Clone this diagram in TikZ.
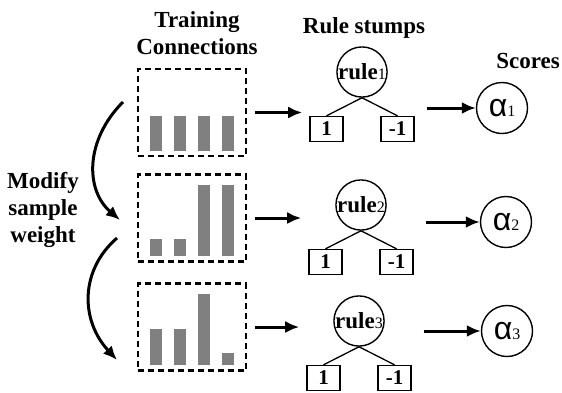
\documentclass[tikz,border=0pt]{standalone}
\usepackage{fontspec}
\setmainfont{Liberation Serif}
\newfontfamily\greekfont{Liberation Sans}
\usetikzlibrary{arrows.meta,calc}

\begin{document}
\begin{tikzpicture}[x=1pt, y=-1pt, >={Latex[length=14pt,width=12pt]},
        level distance=57pt, sibling distance=71pt,
        edge from parent/.style={draw, line width=1.3pt},
        edge from parent path={(\tikzparentnode.south) -- (\tikzchildnode.north)}]
      \tikzstyle{title} = [font=\bfseries\fontsize{23}{27}\selectfont, align=center]
      \tikzstyle{sample} = [draw, line width=2.7pt, dash pattern=on 6pt off 4pt,
        minimum width=108pt, minimum height=87pt, inner sep=0pt]
      \tikzstyle{bar} = [fill=black!50]
      \tikzstyle{rule} = [draw, circle, line width=1.4pt, minimum size=50pt, inner sep=0pt,
        font=\bfseries\fontsize{23}{23}\selectfont]
      \tikzstyle{leaf} = [draw, line width=1.4pt, minimum width=33pt, minimum height=25pt,
        inner sep=0pt, font=\bfseries\fontsize{21}{21}\selectfont]
      \tikzstyle{score} = [draw, circle, line width=1.4pt, minimum size=51pt, inner sep=0pt]
      \tikzstyle{arrow} = [->, line width=3pt]
      \newcommand{\idx}[1]{{\mdseries\fontsize{16}{16}\selectfont #1}}
      \newcommand{\alphaof}[1]{{\greekfont\fontsize{32}{32}\selectfont α}\idx{#1}}
      \useasboundingbox (0,0) rectangle (562,392);
      % headings
      \node (TRAIN) [title] at (197,33) {Training\\Connections};
      \node (STUMPS) [title] at (364,28) {Rule stumps};
      \node (SCORES) [title] at (528,61) {Scores};
      \node (MODIFY) [title] at (43,210) {Modify\\sample\\weight};
      % training samples
      \node (BOX1) [sample] at (192,112.5) {};
      \node (BOX2) [sample] at (192,218) {};
      \node (BOX3) [sample] at (192,327) {};
      \foreach \x/\h in {-42/35,-18/35,6/35,30/35}
        \fill[bar] ($(BOX1.center)+(\x,38)$) rectangle ++(12,-\h);
      \foreach \x/\h in {-42/17,-18/17,6/71,30/71}
        \fill[bar] ($(BOX2.center)+(\x,38)$) rectangle ++(12,-\h);
      \foreach \x/\h in {-42/36,-18/36,6/71,30/12}
        \fill[bar] ($(BOX3.center)+(\x,38)$) rectangle ++(12,-\h);
      % rule stumps
      \node (RULE1) [rule] at (362,72) {rule\idx{1}}
        child {node (ONE1) [leaf] {1}}
        child {node (NEG1) [leaf] {-1}};
      \node (RULE2) [rule] at (361,205) {rule\idx{2}}
        child {node (ONE2) [leaf] {1}}
        child {node (NEG2) [leaf] {-1}};
      \node (RULE3) [rule] at (359,321) {rule\idx{3}}
        child {node (ONE3) [leaf] {1}}
        child {node (NEG3) [leaf] {-1}};
      % scores
      \node (ALPHA1) [score] at (502,108) {\alphaof{1}};
      \node (ALPHA2) [score] at (506,222) {\alphaof{2}};
      \node (ALPHA3) [score] at (507,331) {\alphaof{3}};
      \draw [arrow, shorten <=8pt, shorten >=34pt] (BOX1.east) -- (BOX1 -| RULE1.west);
      \draw [arrow, shorten <=8pt, shorten >=34pt] (BOX2.east) -- (BOX2 -| RULE2.west);
      \draw [arrow, shorten <=8pt, shorten >=34pt] (BOX3.east) -- (BOX3 -| RULE3.west);
      \draw [arrow, shorten <=12pt] (ALPHA1 -| NEG1.east) -- (ALPHA1);
      \draw [arrow, shorten <=12pt] (ALPHA2 -| NEG2.east) -- (ALPHA2);
      \draw [arrow, shorten <=12pt] (ALPHA3 -| NEG3.east) -- (ALPHA3);
      % reweighting
      \coordinate (W1) at (123,102);
      \coordinate (W2) at (120,220);
      \coordinate (W3) at (117,238);
      \coordinate (W4) at (117,360);
      \draw [arrow] (W1) .. controls (85,140) and (85,190) .. (W2);
      \draw [arrow] (W3) .. controls (80,270) and (80,320) .. (W4);
    \end{tikzpicture}
\end{document}
